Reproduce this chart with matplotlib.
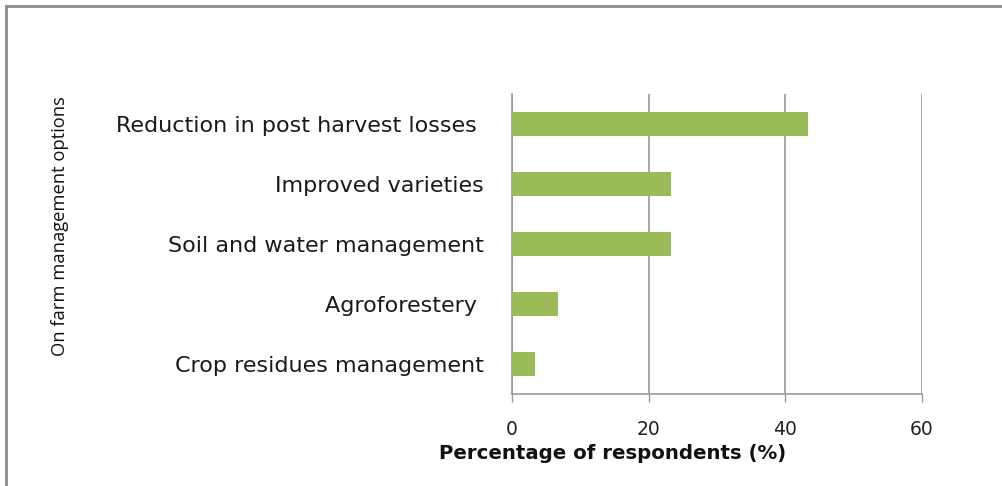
import matplotlib
matplotlib.use("Agg")
import matplotlib.pyplot as plt
from matplotlib.lines import Line2D

categories = ["Reduction in post harvest losses ", "Improved varieties", "Soil and water management",
              "Agroforestery ", "Crop residues management"]
values = [43.3, 23.3, 23.3, 6.7, 3.3]
xticks = [0, 20, 40, 60]

W, H = 1003, 486
fig = plt.figure(figsize=(W / 100, H / 100), dpi=100)
ax = fig.add_axes([512 / W, 1 - 394 / H, (922 - 512) / W, 300 / H])

ypos = list(range(len(categories)))[::-1]
ax.barh(ypos, values, height=0.41, color="#9BBB59", zorder=3)
ax.set_xlim(0, 60)
ax.set_ylim(-0.5, 4.5)
ax.set_xticks(xticks)
ax.set_xticklabels([str(t) for t in xticks], fontsize=13.5, family="DejaVu Sans", color="#222222")
ax.set_yticks(ypos)
ax.set_yticklabels(categories, fontsize=16, family="DejaVu Sans", color="#1a1a1a")
ax.tick_params(axis="y", length=0, pad=20)
ax.tick_params(axis="x", length=6, width=1, color="#999999", pad=13, direction="out")
ax.grid(axis="x", color="#999999", linewidth=1.2, zorder=0)
for s in ["top", "right"]:
    ax.spines[s].set_visible(False)
for s in ["left", "bottom"]:
    ax.spines[s].set_color("#999999")
    ax.spines[s].set_linewidth(1.2)

fig.text(613 / W, 1 - 453 / H, "Percentage of respondents (%)", ha="center", va="center",
         fontsize=14.2, fontweight="bold", family="DejaVu Sans", color="#111111")
fig.text(60 / W, 1 - 226 / H, "On farm management options", ha="center", va="center",
         rotation=90, fontsize=13.2, family="Open Sans", color="#111111")

fig.add_artist(Line2D([6 / W, 1], [1 - 6 / H, 1 - 6 / H], transform=fig.transFigure,
                      color="#8c8c8c", linewidth=2))
fig.add_artist(Line2D([6 / W, 6 / W], [0, 1 - 6 / H], transform=fig.transFigure,
                      color="#8c8c8c", linewidth=2))

fig.savefig("out.png", dpi=100)
